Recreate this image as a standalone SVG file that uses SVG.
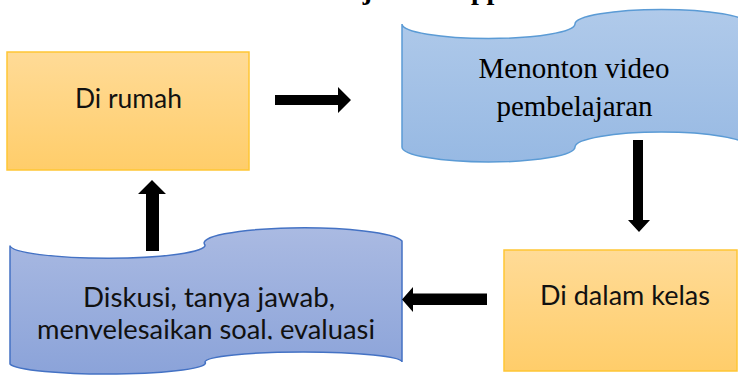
<svg xmlns="http://www.w3.org/2000/svg" width="738" height="375" viewBox="0 0 738 375">
<defs>
<linearGradient id="gOr" x1="0" y1="0" x2="0" y2="1"><stop offset="0" stop-color="#FFDB97"/><stop offset="1" stop-color="#FFCD6A"/></linearGradient>
<linearGradient id="gB1" x1="0" y1="0" x2="0" y2="1"><stop offset="0" stop-color="#B0CAEA"/><stop offset="1" stop-color="#97B9E3"/></linearGradient>
<linearGradient id="gB2" x1="0" y1="0" x2="0" y2="1"><stop offset="0" stop-color="#AABAE2"/><stop offset="1" stop-color="#8BA3D9"/></linearGradient>
<clipPath id="clipL2"><rect x="0" y="300" width="420" height="39.5"/></clipPath>
</defs>
<style>
.orange{fill:url(#gOr);stroke:#FFC635;stroke-width:1.5}
.blue1{fill:url(#gB1);stroke:#5B9BD5;stroke-width:1.5}
.blue2{fill:url(#gB2);stroke:#4472C4;stroke-width:1.5}
.cal{font-family:Lato,"Open Sans",sans-serif;font-size:27px;fill:#111}
.tms{font-family:"Liberation Serif","Times New Roman",serif;font-size:29px;fill:#000;text-anchor:middle}
.ttl{font-family:"Liberation Serif","Times New Roman",serif;font-size:28px;font-weight:bold;fill:#000}
.arr{fill:#000}
</style>
<text class="ttl" x="260" y="-1">Pembelajaran<tspan x="438.3">Flipped Classroom</tspan></text>
<g id="node-rumah">
<rect class="orange" x="7" y="52" width="242" height="118"/>
<text class="cal" x="75" y="108" textLength="107" lengthAdjust="spacingAndGlyphs">Di rumah</text>
</g>
<g id="node-video">
<path class="blue1" d="M402,24 A86.5,14.5 0 0 0 575,24 A86.5,14.5 0 0 1 748,24 L748,147 A86.5,15 0 0 0 575,147 A86.5,15 0 0 1 402,147 Z"/>
<text class="tms" x="574" y="77.5">Menonton video</text>
<text class="tms" x="574.5" y="116">pembelajaran</text>
</g>
<g id="node-kelas">
<rect class="orange" x="504" y="250" width="233" height="121"/>
<text class="cal" x="540" y="305" textLength="170" lengthAdjust="spacingAndGlyphs">Di dalam kelas</text>
</g>
<g id="node-diskusi">
<path class="blue2" d="M10,245.5 A97.5,13 0 0 0 205,245 A98.5,15 0 0 1 402,241 L402,362 A98.5,10 0 0 0 205,362 A97.5,11 0 0 1 10,364 Z"/>
<text class="cal" x="83" y="306.5" textLength="252" lengthAdjust="spacingAndGlyphs">Diskusi, tanya jawab,</text>
<text class="cal" x="37" y="338.5" textLength="338" lengthAdjust="spacingAndGlyphs" clip-path="url(#clipL2)">menyelesaikan soal, evaluasi</text>
</g>
<g id="connectors">
<polygon class="arr" points="275,95 338,95 338,87 351,100 338,113 338,105 275,105"/>
<polygon class="arr" points="633,140 643,140 643,220 650,220 639,232 628,220 633,220"/>
<polygon class="arr" points="487,293.5 413,293.5 413,287 402,299.5 413,312 413,305 487,305"/>
<polygon class="arr" points="146,251 146,194 138,194 152,180 166,194 159,194 159,251"/>
</g>
</svg>
